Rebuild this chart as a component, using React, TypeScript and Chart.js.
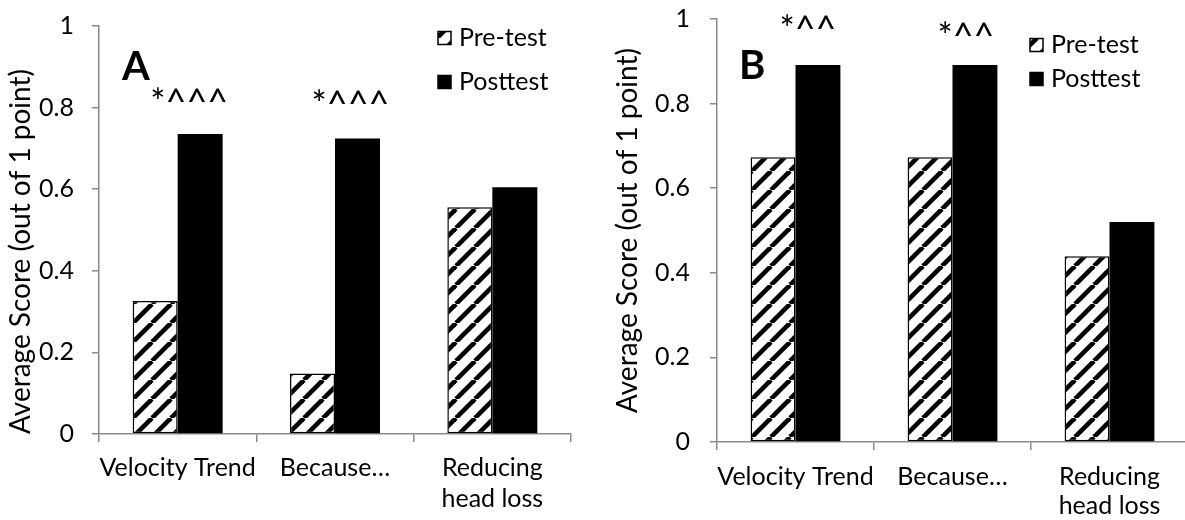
import React, { useEffect, useRef } from 'react';
import { Chart, registerables } from 'chart.js';

Chart.register(...registerables);

// ---------- data ----------
const categories: (string | string[])[] = ['Velocity Trend', 'Because…', ['Reducing', 'head loss']];
const seriesNames = ['Pre-test', 'Posttest'];
const preTestA = [0.326, 0.148, 0.556];
const postTestA = [0.735, 0.724, 0.605];
const preTestB = [0.673, 0.673, 0.439];
const postTestB = [0.891, 0.891, 0.52];
const markersA = ['*^^^', '*^^^', ''];
const markersB = ['*^^', '*^^', ''];
const yTickValues = [0, 0.2, 0.4, 0.6, 0.8, 1];
const yAxisTitle = 'Average Score (out of 1 point)';
const panelLetters = ['A', 'B'];

// ---------- styles ----------
const FONT = 'Lato, "Open Sans", "DejaVu Sans", sans-serif';
const AXIS = '#8a8a8a';

function makeHatch(ctx: CanvasRenderingContext2D): CanvasPattern | string {
  const size = 19;
  const tile = document.createElement('canvas');
  tile.width = size;
  tile.height = size;
  const t = tile.getContext('2d');
  if (!t) return '#fff';
  t.fillStyle = '#fff';
  t.fillRect(0, 0, size, size);
  t.strokeStyle = '#000';
  t.lineWidth = 4.6;
  for (let k = -1; k <= 1; k++) {
    t.beginPath();
    t.moveTo(k * size, size);
    t.lineTo(k * size + size, 0);
    t.stroke();
  }
  return ctx.createPattern(tile, 'repeat') || '#fff';
}

const panelDecor = {
  id: 'panelDecor',
  afterDatasetsDraw(chart: any, _args: any, opts: any) {
    const { ctx, chartArea } = chart;
    const post = chart.getDatasetMeta(1);
    ctx.save();
    // panel letter
    ctx.fillStyle = '#000';
    ctx.font = `bold ${opts.letterSize}px ${FONT}`;
    ctx.textAlign = 'left';
    ctx.textBaseline = 'alphabetic';
    ctx.fillText(opts.letter, chartArea.left + opts.letterDx, opts.letterY);
    // significance markers
    ctx.font = `${opts.markerSize}px ${FONT}`;
    ctx.textAlign = 'center';
    ctx.textBaseline = 'middle';
    opts.markers.forEach((m: string, i: number) => {
      if (!m) return;
      const bar = post.data[i];
      ctx.fillText(m, bar.x + opts.markerDx[i], bar.y - opts.markerDy[i]);
    });
    // legend
    const box = opts.legendBox;
    ctx.font = `${opts.legendSize}px ${FONT}`;
    ctx.textAlign = 'left';
    ctx.textBaseline = 'middle';
    seriesNames.forEach((name, i) => {
      const cy = opts.legendRows[i];
      const ds = chart.data.datasets[i];
      ctx.fillStyle = ds.backgroundColor;
      ctx.fillRect(opts.legendX, cy - box / 2, box, box);
      ctx.strokeStyle = '#000';
      ctx.lineWidth = 1.5;
      ctx.strokeRect(opts.legendX, cy - box / 2, box, box);
      ctx.fillStyle = '#000';
      ctx.fillText(name, opts.legendX + box + 8, cy);
    });
    ctx.restore();
  },
};

function buildChart(
  canvas: HTMLCanvasElement,
  pre: number[],
  post: number[],
  cfg: any
): Chart {
  const ctx = canvas.getContext('2d') as CanvasRenderingContext2D;
  const hatch = makeHatch(ctx);
  return new Chart(canvas, {
    type: 'bar',
    data: {
      labels: categories,
      datasets: [
        {
          label: seriesNames[0],
          data: pre,
          backgroundColor: hatch as any,
          borderColor: '#000',
          borderWidth: 1.5,
          borderSkipped: false,
        },
        {
          label: seriesNames[1],
          data: post,
          backgroundColor: '#000',
          borderColor: '#000',
          borderWidth: 0,
        },
      ],
    },
    options: {
      responsive: false,
      animation: false,
      devicePixelRatio: 1,
      layout: { padding: { left: 0, top: cfg.top, right: cfg.right, bottom: 0 } },
      datasets: { bar: { categoryPercentage: 0.572, barPercentage: 1 } },
      plugins: {
        legend: { display: false },
        tooltip: { enabled: false },
        panelDecor: cfg.decor,
      } as any,
      scales: {
        x: {
          border: { display: true, color: AXIS, width: 1.5 },
          grid: {
            display: true,
            drawOnChartArea: false,
            drawTicks: true,
            tickLength: 8,
            color: AXIS,
            lineWidth: 1.5,
            offset: true,
          },
          ticks: {
            color: '#000',
            padding: cfg.xPad,
            maxRotation: 0,
            autoSkip: false,
            font: { family: FONT, size: 25, lineHeight: cfg.xLine },
          },
          afterFit: (s: any) => {
            s.height = cfg.xHeight;
            s.paddingLeft = 0;
            s.paddingRight = 0;
          },
        },
        y: {
          min: 0,
          max: 1,
          border: { display: true, color: AXIS, width: 1.5 },
          grid: {
            display: true,
            drawOnChartArea: false,
            drawTicks: true,
            tickLength: 7,
            color: AXIS,
            lineWidth: 1.5,
          },
          afterBuildTicks: (s: any) => {
            s.ticks = yTickValues.map((v) => ({ value: v }));
          },
          ticks: {
            color: '#000',
            padding: cfg.yPad,
            font: { family: FONT, size: 25 },
            callback: (v: any) => String(Math.round(Number(v) * 10) / 10),
          },
          title: {
            display: true,
            text: yAxisTitle,
            color: '#000',
            align: cfg.titleAlign,
            font: { family: FONT, size: 28 },
            padding: { top: cfg.titlePad, bottom: 0 },
          },
          afterFit: (s: any) => {
            s.width = cfg.yWidth;
            s.paddingTop = 0;
            s.paddingBottom = 0;
          },
        },
      },
    },
    plugins: [panelDecor],
  } as any);
}

export default function App() {
  const refA = useRef<HTMLCanvasElement>(null);
  const refB = useRef<HTMLCanvasElement>(null);

  useEffect(() => {
    if (!refA.current || !refB.current) return;
    const a = buildChart(refA.current, preTestA, postTestA, {
      top: 26,
      right: 29,
      xHeight: 86,
      xPad: 10,
      xLine: 1.25,
      yWidth: 99,
      yPad: 18,
      titlePad: 4,
      titleAlign: 'start',
      decor: {
        letter: panelLetters[0],
        letterDx: 23,
        letterY: 80,
        letterSize: 40,
        markers: markersA,
        markerSize: 36,
        markerDx: [-11, -7, 0],
        markerDy: [31, 33, 0],
        legendX: 438,
        legendRows: [38, 82],
        legendBox: 13,
        legendSize: 25,
      },
    });
    const b = buildChart(refB.current, preTestB, postTestB, {
      top: 19,
      right: 12,
      xHeight: 78,
      xPad: 13,
      xLine: 1.15,
      yWidth: 117,
      yPad: 20,
      titlePad: 11,
      titleAlign: 'center',
      decor: {
        letter: panelLetters[1],
        letterDx: 22,
        letterY: 79,
        letterSize: 40,
        markers: markersB,
        markerSize: 36,
        markerDx: [-10, -9, 0],
        markerDy: [35, 28, 0],
        legendX: 430,
        legendRows: [45, 79],
        legendBox: 13,
        legendSize: 25,
      },
    });
    return () => {
      a.destroy();
      b.destroy();
    };
  }, []);

  return (
    <div
      style={{
        position: 'fixed',
        left: 0,
        top: 0,
        width: 1185,
        height: 520,
        overflow: 'hidden',
        background: '#fff',
      }}
    >
      <canvas
        ref={refA}
        width={600}
        height={520}
        style={{ position: 'absolute', left: 0, top: 0, display: 'block' }}
      />
      <canvas
        ref={refB}
        width={600}
        height={520}
        style={{ position: 'absolute', left: 600, top: 0, display: 'block' }}
      />
    </div>
  );
}
